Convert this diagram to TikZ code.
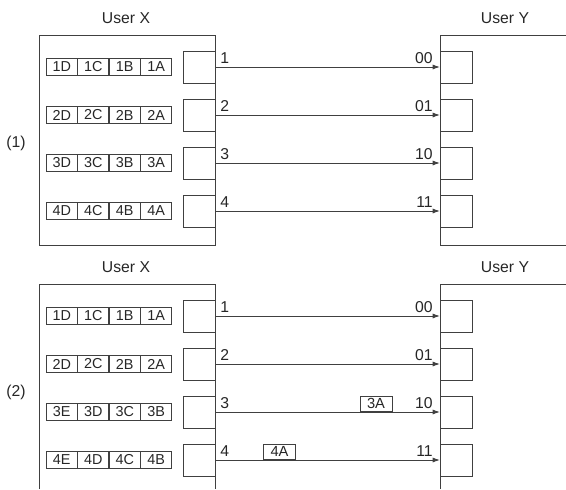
\documentclass[tikz,border=0pt]{standalone}
\usepackage{fontspec}
\setmainfont{Liberation Sans}
\usetikzlibrary{arrows.meta}
\definecolor{linija}{gray}{0.25}
\definecolor{tekst}{gray}{0.15}
\tikzset{
  okvir/.style={draw=linija,line width=0.75pt},
  prikljucak/.style={draw=linija,line width=0.75pt,minimum width=24pt,
                     minimum height=24pt,inner sep=0pt},
  celija/.style={draw=linija,line width=0.75pt,minimum width=23.6pt,
                 minimum height=12.6pt,inner sep=0pt,text=tekst,
                 font=\fontsize{10.8}{11}\selectfont},
  paket/.style={draw=linija,line width=0.75pt,minimum width=24pt,
                minimum height=11.6pt,inner sep=0pt,anchor=south,fill=white,
                text=tekst,font=\fontsize{11}{12}\selectfont},
  oznaka/.style={inner sep=0pt,text=tekst,font=\fontsize{11.8}{13}\selectfont},
  strelica/.style={-{Latex[length=5.5pt,width=3.8pt]},line width=0.75pt,linija},
}

\begin{document}
\begin{tikzpicture}[x=0.75pt,y=-0.75pt]
  \useasboundingbox (0,0) rectangle (566,489);
  \clip (0,0) rectangle (566,489);

  % ---------- DEO (1) ----------
  \node[oznaka] (kx1) at (126,18) {User X};
  \node[oznaka] (ky1) at (505,18) {User Y};
  \node[oznaka] (br1) at (16,143) {(1)};
  \draw[okvir] (39,35) rectangle (215,245);
  \draw[okvir] (566,35) -- (440,35) -- (440,245) -- (566,245);

  \node[prikljucak] (ax1) at (199,67)  {};
  \node[prikljucak] (ax2) at (199,115) {};
  \node[prikljucak] (ax3) at (199,163) {};
  \node[prikljucak] (ax4) at (199,211) {};
  \node[prikljucak] (ay1) at (456.5,67)  {};
  \node[prikljucak] (ay2) at (456.5,115) {};
  \node[prikljucak] (ay3) at (456.5,163) {};
  \node[prikljucak] (ay4) at (456.5,211) {};

  \node[celija] (a1d) at (61.75,67)  {1D};
  \node[celija] (a1c) at (93.25,67)  {1C};
  \node[celija] (a1b) at (124.75,67) {1B};
  \node[celija] (a1a) at (156.25,67) {1A};
  \node[celija] (a2d) at (61.75,115)  {2D};
  \node[celija] (a2c) at (93.25,115)  {2C};
  \node[celija] (a2b) at (124.75,115) {2B};
  \node[celija] (a2a) at (156.25,115) {2A};
  \node[celija] (a3d) at (61.75,163)  {3D};
  \node[celija] (a3c) at (93.25,163)  {3C};
  \node[celija] (a3b) at (124.75,163) {3B};
  \node[celija] (a3a) at (156.25,163) {3A};
  \node[celija] (a4d) at (61.75,211)  {4D};
  \node[celija] (a4c) at (93.25,211)  {4C};
  \node[celija] (a4b) at (124.75,211) {4B};
  \node[celija] (a4a) at (156.25,211) {4A};

  \draw[strelica] (ax1.east) -- (ay1.west);
  \draw[strelica] (ax2.east) -- (ay2.west);
  \draw[strelica] (ax3.east) -- (ay3.west);
  \draw[strelica] (ax4.east) -- (ay4.west);

  \node[oznaka,anchor=base west] (an1) at (220,63)  {1};
  \node[oznaka,anchor=base west] (an2) at (220,111) {2};
  \node[oznaka,anchor=base west] (an3) at (220,159) {3};
  \node[oznaka,anchor=base west] (an4) at (220,207) {4};
  \node[oznaka,anchor=base east] (am1) at (433,63)  {00};
  \node[oznaka,anchor=base east] (am2) at (433,111) {01};
  \node[oznaka,anchor=base east] (am3) at (433,159) {10};
  \node[oznaka,anchor=base east] (am4) at (433,207) {11};

  % ---------- DEO (2) ----------
  \node[oznaka] (kx2) at (126,267) {User X};
  \node[oznaka] (ky2) at (505,267) {User Y};
  \node[oznaka] (br2) at (16,392) {(2)};
  \draw[okvir] (39,489) -- (39,284) -- (215,284) -- (215,489);
  \draw[okvir] (566,284) -- (440,284) -- (440,489);

  \node[prikljucak] (bx1) at (199,316) {};
  \node[prikljucak] (bx2) at (199,364) {};
  \node[prikljucak] (bx3) at (199,412) {};
  \node[prikljucak] (bx4) at (199,460) {};
  \node[prikljucak] (by1) at (456.5,316) {};
  \node[prikljucak] (by2) at (456.5,364) {};
  \node[prikljucak] (by3) at (456.5,412) {};
  \node[prikljucak] (by4) at (456.5,460) {};

  \node[celija] (b1d) at (61.75,316)  {1D};
  \node[celija] (b1c) at (93.25,316)  {1C};
  \node[celija] (b1b) at (124.75,316) {1B};
  \node[celija] (b1a) at (156.25,316) {1A};
  \node[celija] (b2d) at (61.75,364)  {2D};
  \node[celija] (b2c) at (93.25,364)  {2C};
  \node[celija] (b2b) at (124.75,364) {2B};
  \node[celija] (b2a) at (156.25,364) {2A};
  \node[celija] (b3e) at (61.75,412)  {3E};
  \node[celija] (b3d) at (93.25,412)  {3D};
  \node[celija] (b3c) at (124.75,412) {3C};
  \node[celija] (b3b) at (156.25,412) {3B};
  \node[celija] (b4e) at (61.75,460)  {4E};
  \node[celija] (b4d) at (93.25,460)  {4D};
  \node[celija] (b4c) at (124.75,460) {4C};
  \node[celija] (b4b) at (156.25,460) {4B};

  \draw[strelica] (bx1.east) -- (by1.west);
  \draw[strelica] (bx2.east) -- (by2.west);
  \draw[strelica] (bx3.east) -- (by3.west);
  \draw[strelica] (bx4.east) -- (by4.west);

  % paketi na putu
  \node[paket] (p3a) at (376,412) {3A};
  \node[paket] (p4a) at (279.5,460) {4A};

  \node[oznaka,anchor=base west] (bn1) at (220,312) {1};
  \node[oznaka,anchor=base west] (bn2) at (220,360) {2};
  \node[oznaka,anchor=base west] (bn3) at (220,408) {3};
  \node[oznaka,anchor=base west] (bn4) at (220,456) {4};
  \node[oznaka,anchor=base east] (bm1) at (433,312) {00};
  \node[oznaka,anchor=base east] (bm2) at (433,360) {01};
  \node[oznaka,anchor=base east] (bm3) at (433,408) {10};
  \node[oznaka,anchor=base east] (bm4) at (433,456) {11};

\end{tikzpicture}
\end{document}
